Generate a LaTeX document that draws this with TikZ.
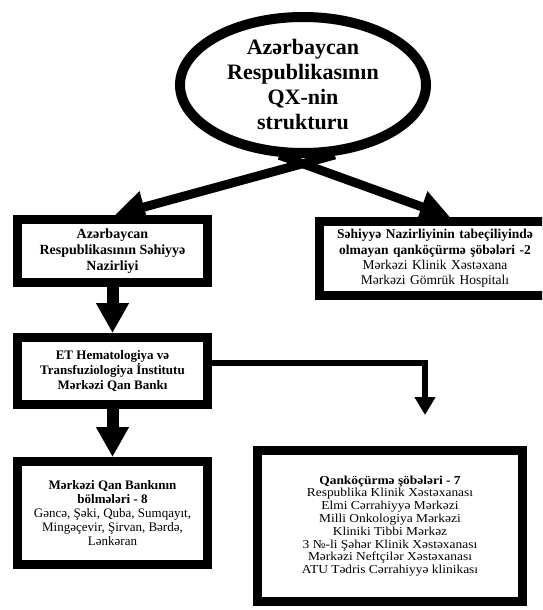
\documentclass[tikz,border=0pt]{standalone}
\usepackage{fontspec}
\setmainfont{Liberation Serif}
\newfontfamily\widerserif{Liberation Serif}[FakeStretch=1.1]
\usetikzlibrary{shapes.geometric,arrows.meta}
\begin{document}
\begin{tikzpicture}[x=1pt,y=-1pt,
  box/.style={draw=black,line width=9pt,fill=white,inner sep=0pt,align=center,
    font=\fontsize{13}{15}\selectfont},
  titlebox/.style={draw=black,ellipse,line width=10pt,fill=white,inner sep=0pt,align=center,
    font=\fontsize{22}{25}\selectfont\bfseries},
  bigarrow/.style={line width=12pt,-{Triangle[width=31pt,length=30pt]}},
  slantarrow/.style={line width=9pt,-{Triangle[width=31pt,length=30pt]}},
  thinarrow/.style={line width=6pt,-{Triangle[width=20pt,length=18pt]}}
]
\useasboundingbox (0,0) rectangle (542,610);
\clip (0,0) rectangle (542,610);

\node[titlebox,minimum width=246pt,minimum height=136pt] (title) at (303,85)
  {Azərbaycan\\Respublikasının\\QX-nin\\strukturu};

\node[box,minimum width=190pt,minimum height=63pt,font=\fontsize{14}{16}\selectfont] (nazir) at (112.5,251)
  {\textbf{Azərbaycan}\\\textbf{Respublikasının Səhiyyə}\\\textbf{Nazirliyi}};

\node[box,minimum width=236pt,minimum height=74pt,text width=230pt,font=\fontsize{13.5}{15.2}\selectfont] (other) at (437.5,258.5)
  {\hspace*{-5pt}\textbf{Səhiyyə Nazirliyinin tabeçiliyində}\\\hspace*{-5pt}\textbf{olmayan qanköçürmə şöbələri -2}\\\hspace*{-5pt}Mərkəzi Klinik Xəstəxana\\\hspace*{-5pt}Mərkəzi Gömrük Hospitalı};

\node[box,minimum width=190pt,minimum height=67pt,font=\fontsize{13}{14.6}\selectfont] (et) at (112.5,371)
  {\textbf{ET Hematologiya və}\\\textbf{Transfuziologiya İnstitutu}\\\textbf{Mərkəzi Qan Bankı}};

\node[box,minimum width=190pt,minimum height=103pt,font=\fontsize{13}{14.2}\selectfont] (bank) at (112.5,513)
  {\textbf{Mərkəzi Qan Bankının}\\\textbf{bölmələri - 8}\\Gəncə, Şəki, Quba, Sumqayıt,\\Mingəçevir, Şirvan, Bərdə,\\Lənkəran};

\node[box,minimum width=265pt,minimum height=151pt,font=\widerserif\fontsize{12.2}{12.8}\selectfont] (qan) at (390,526)
  {\textbf{Qanköçürmə şöbələri - 7}\\Respublika Klinik Xəstəxanası\\Elmi Cərrahiyyə Mərkəzi\\Milli Onkologiya Mərkəzi\\Kliniki Tibbi Mərkəz\\3 №-li Şəhər Klinik Xəstəxanası\\Mərkəzi Neftçilər Xəstəxanası\\ATU Tədris Cərrahiyyə klinikası};

\coordinate (qanend) at (425,415);

\draw[slantarrow,shorten <=-6pt] (title.-70) -- ([xshift=2.5pt]nazir.north);
\draw[slantarrow,shorten <=-6pt] (title.-104) -- ([xshift=12.5pt]other.north);
\draw[bigarrow] (nazir) -- (et);
\draw[bigarrow] (et) -- (bank);
\draw[thinarrow] ([yshift=8pt]et.east) -| (qanend);
\end{tikzpicture}
\end{document}
